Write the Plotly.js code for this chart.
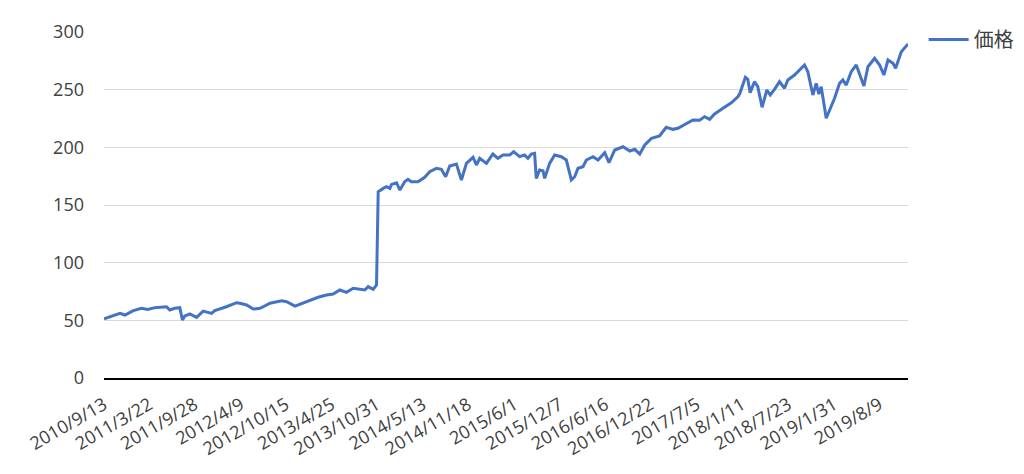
<!DOCTYPE html>
<html>
<head>
<meta charset="utf-8">
<script src="https://cdn.plot.ly/plotly-3.0.1.min.js"></script>
<style>html,body{margin:0;padding:0;background:#fff;}#chart{width:1024px;height:474px;}</style>
</head>
<body>
<div id="chart"></div>
<script>
const seriesName = "価格";
const dates = [
"2010-09-13","2010-11-19","2010-12-10","2011-01-14","2011-02-17","2011-03-16","2011-04-14","2011-06-02","2011-06-16","2011-07-07",
"2011-07-28","2011-08-08","2011-08-18","2011-09-08","2011-10-06","2011-11-03","2011-12-08","2011-12-22","2012-02-08","2012-03-22",
"2012-04-05","2012-05-03","2012-05-31","2012-06-28","2012-07-12","2012-08-09","2012-09-27","2012-10-18","2012-11-22","2013-01-09",
"2013-02-27","2013-04-03","2013-05-01","2013-05-29","2013-06-26","2013-07-24","2013-09-11","2013-09-25","2013-10-16","2013-10-30",
"2013-11-06","2013-11-27","2013-12-11","2013-12-25","2014-01-01","2014-01-22","2014-02-05","2014-02-25","2014-03-11","2014-03-25",
"2014-04-22","2014-05-20","2014-06-10","2014-07-08","2014-07-29","2014-08-16","2014-09-02","2014-09-30","2014-10-21","2014-11-11",
"2014-12-09","2014-12-23","2015-01-06","2015-02-03","2015-03-02","2015-03-23","2015-04-13","2015-05-11","2015-05-28","2015-06-22",
"2015-07-13","2015-07-27","2015-08-10","2015-08-24","2015-08-31","2015-09-14","2015-09-28","2015-10-05","2015-10-26","2015-11-16",
"2015-12-14","2016-01-04","2016-01-25","2016-02-08","2016-02-22","2016-03-14","2016-03-28","2016-04-25","2016-05-16","2016-06-13",
"2016-07-01","2016-07-25","2016-08-29","2016-09-26","2016-10-17","2016-11-07","2016-11-28","2016-12-26","2017-01-29","2017-02-26",
"2017-03-26","2017-04-16","2017-05-21","2017-06-18","2017-07-16","2017-08-06","2017-08-27","2017-09-17","2017-10-22","2017-11-26",
"2017-12-24","2018-01-01","2018-01-24","2018-02-03","2018-02-13","2018-03-03","2018-03-17","2018-04-04","2018-04-24","2018-05-08",
"2018-05-26","2018-06-16","2018-07-07","2018-07-21","2018-08-18","2018-09-01","2018-09-29","2018-10-13","2018-11-03","2018-11-17",
"2018-11-28","2018-12-08","2018-12-29","2019-02-02","2019-02-23","2019-03-09","2019-03-23","2019-04-13","2019-05-04","2019-06-05",
"2019-06-22","2019-07-20","2019-08-10","2019-08-28","2019-09-14","2019-10-05","2019-10-16","2019-11-09","2019-12-07"
];
const prices = [
51.2,56.0,54.6,58.4,60.4,59.5,61.0,61.8,59.0,60.4,
61.0,50.3,53.8,55.5,52.6,58.0,56.0,58.4,61.8,65.3,
64.8,63.3,59.8,60.4,61.8,64.8,67.0,66.2,62.4,66.2,
70.0,72.0,72.8,76.3,74.3,77.8,76.3,79.2,76.9,80.6,
161.5,164.4,165.9,164.4,167.9,169.3,163.0,170.2,172.3,170.2,
170.2,174.0,178.9,181.8,180.9,174.5,183.8,185.5,171.7,186.1,
191.3,184.7,190.5,186.1,194.2,190.5,193.3,193.3,196.2,191.9,
193.3,190.5,194.2,194.8,173.1,180.3,179.7,173.1,186.1,193.3,
191.9,189.0,171.7,174.5,181.8,183.2,189.0,191.9,189.0,195.3,
186.7,197.7,200.5,196.8,198.3,194.2,202.0,207.8,209.8,217.4,
215.6,216.5,220.2,223.7,223.5,226.6,224.3,229.0,233.8,238.6,
244.0,246.8,260.7,259.0,247.4,256.9,252.6,234.7,249.7,245.4,
250.3,256.9,251.2,258.4,262.7,265.6,271.4,265.6,245.4,255.5,
246.2,252.6,225.2,242.5,255.5,258.4,254.0,265.6,271.4,253.2,
269.9,277.2,271.4,262.7,275.7,272.8,268.5,282.9,289.6
];
const tickDates = ["2010-09-13","2011-03-22","2011-09-28","2012-04-09","2012-10-15","2013-04-25","2013-10-31","2014-05-13","2014-11-18","2015-06-01","2015-12-07","2016-06-16","2016-12-22","2017-07-05","2018-01-11","2018-07-23","2019-01-31","2019-08-09"];
const tickLabels = ["2010/9/13","2011/3/22","2011/9/28","2012/4/9","2012/10/15","2013/4/25","2013/10/31","2014/5/13","2014/11/18","2015/6/1","2015/12/7","2016/6/16","2016/12/22","2017/7/5","2018/1/11","2018/7/23","2019/1/31","2019/8/9"];
const yTicks = [0,50,100,150,200,250,300];

const font = {family: "'Open Sans', 'Noto Sans CJK JP', sans-serif", size: 18, color: "#404040"};
const legendFont = {family: "'Open Sans', 'Noto Sans CJK JP', sans-serif", size: 20, color: "#404040"};
const trace = {
  x: dates, y: prices, type: "scatter", mode: "lines", name: seriesName,
  line: {color: "#4472C4", width: 3}, showlegend: true
};
const layout = {
  width: 1024, height: 474,
  margin: {l: 104, r: 116, t: 32, b: 96},
  paper_bgcolor: "#fff", plot_bgcolor: "#fff",
  font: font,
  showlegend: true,
  legend: {x: 0.902, xref: "container", y: 1 - 20/474, yref: "container", xanchor: "left", yanchor: "top", font: legendFont, itemwidth: 40, bgcolor: "rgba(0,0,0,0)"},
  xaxis: {
    type: "date", range: [dates[0], dates[dates.length-1]],
    tickvals: tickDates, ticktext: tickLabels, tickangle: -30,
    showgrid: false, zeroline: false, showline: true, linecolor: "#000", linewidth: 1.5,
    ticks: "", ticklabelstandoff: 8, tickfont: font, automargin: false
  },
  yaxis: {
    range: [0, 300], tickvals: yTicks, ticktext: yTicks.map(String),
    showgrid: true, gridcolor: "#d9d9d9", gridwidth: 1, zeroline: false, showline: false,
    ticks: "", ticklabelstandoff: 19, tickfont: font, automargin: false
  }
};
Plotly.newPlot("chart", [trace], layout, {staticPlot: true, displayModeBar: false});
</script>
</body>
</html>
